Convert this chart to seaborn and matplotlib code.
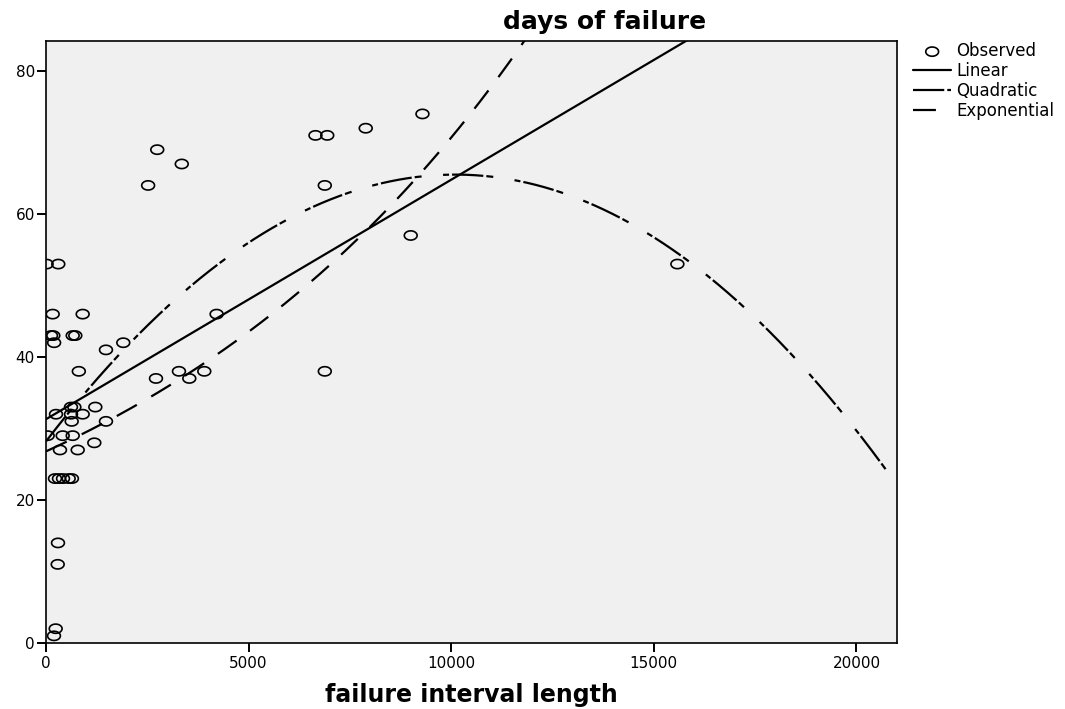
import numpy as np
import pandas as pd
import matplotlib
matplotlib.use("Agg")
import matplotlib.pyplot as plt
from matplotlib.path import Path
import seaborn as sns

# ---------------- data ----------------
interval_length = [15, 303, 165, 905, 123, 180, 200, 659, 723, 810,
                   1480, 1907, 4210, 2745, 3350, 2520, 6650, 6940, 7890, 9290,
                   6880, 9000, 6880, 15580, 2714, 3281, 3536, 3906,
                   1480, 1217, 1192, 905, 247, 617, 700, 617, 634,
                   41, 412, 659, 345, 782,
                   222, 320, 420, 560, 640,
                   296, 289, 239, 197]
days_of_failure = [53, 53, 46, 46, 43, 43, 42, 43, 43, 38,
                   41, 42, 46, 69, 67, 64, 71, 71, 72, 74,
                   64, 57, 38, 53, 37, 38, 37, 38,
                   31, 33, 28, 32, 32, 33, 33, 32, 31,
                   29, 29, 29, 27, 27,
                   23, 23, 23, 23, 23,
                   14, 11, 2, 1]

# fitted-model coefficients
linear_coef = [31.3, 0.00335]                    # b0, b1
quadratic_coef = [28.2, 7.387e-3, -3.656e-7]     # b0, b1, b2
exponential_coef = [26.8, 9.7e-5]                # b0, b1

x_ticks = [0, 5000, 10000, 15000, 20000]
y_ticks = [0, 20, 40, 60, 80]
series_names = ["Observed", "Linear", "Quadratic", "Exponential"]

# ---------------- styling ----------------
sns.set_style("white")
plt.rcParams["font.family"] = ["DejaVu Sans"]
plt.rcParams["lines.scale_dashes"] = False
plt.rcParams["text.color"] = "black"
plt.rcParams["axes.labelcolor"] = "black"

fig = plt.figure(figsize=(10.65, 7.09), dpi=100)
ax = fig.add_axes([46 / 1065, 1 - 643 / 709, 851 / 1065, 602 / 709])
ax.set_facecolor("#F0F0F0")

obs = pd.DataFrame({"x": interval_length, "y": days_of_failure})

# ellipse marker (wider than tall, like the reference)
t = np.linspace(0, 2 * np.pi, 60)
ellipse = Path(np.column_stack([np.cos(t), 0.72 * np.sin(t)]), closed=True)

sns.scatterplot(data=obs, x="x", y="y", ax=ax, marker=ellipse, s=85,
                facecolors="none", edgecolor="black", linewidth=1.2,
                label=series_names[0], zorder=3)

xgrid = np.linspace(0, 21000, 500)
curves = pd.DataFrame({
    "x": xgrid,
    "lin": linear_coef[0] + linear_coef[1] * xgrid,
    "quad": quadratic_coef[0] + quadratic_coef[1] * xgrid + quadratic_coef[2] * xgrid ** 2,
    "exp": exponential_coef[0] * np.exp(exponential_coef[1] * xgrid),
})

lw = 1.6
sns.lineplot(data=curves, x="x", y="lin", ax=ax, color="black", linewidth=lw,
             linestyle="-", label=series_names[1], zorder=4)
sns.lineplot(data=curves, x="x", y="quad", ax=ax, color="black", linewidth=lw,
             linestyle=(0, (22.5, 2.2, 5.0, 15.5, 4.3, 2.2)),
             label=series_names[2], zorder=4)
sns.lineplot(data=curves, x="x", y="exp", ax=ax, color="black", linewidth=lw,
             linestyle=(0, (16.5, 12.0)), label=series_names[3], zorder=4)

for ln in ax.get_lines():
    ln.set_dash_capstyle("butt")

ax.set_xlim(0, 21000)
ax.set_ylim(0, 84.2)
ax.set_xticks(x_ticks)
ax.set_yticks(y_ticks)
ax.tick_params(axis="both", which="major", direction="out", length=6.5,
               width=1.4, labelsize=11, color="black", labelcolor="black",
               bottom=True, left=True, top=False, right=False)
ax.tick_params(axis="y", pad=1.5)
ax.tick_params(axis="x", pad=3)
for sp in ax.spines.values():
    sp.set_visible(True)
    sp.set_color("black")
    sp.set_linewidth(1.2)

ax.set_ylabel("")
ax.set_xlabel("failure interval length", fontsize=17, fontweight="bold",
              color="black")
ax.xaxis.set_label_coords(0.5, -0.066)
ax.xaxis.label.set_va("top")
ax.set_title("days of failure", fontsize=18, fontweight="bold",
             x=(605 - 46) / 851, pad=8.6, color="black")

leg = ax.legend(loc="upper left", bbox_to_anchor=(913 / 1065, 1 - 42 / 709),
                bbox_transform=fig.transFigure, frameon=False, fontsize=12,
                handlelength=2.3, handletextpad=0.3, labelspacing=0.12,
                borderpad=0, borderaxespad=0, scatterpoints=1)
for txt in leg.get_texts():
    txt.set_color("black")

fig.savefig("out.png", dpi=100, facecolor="white")
